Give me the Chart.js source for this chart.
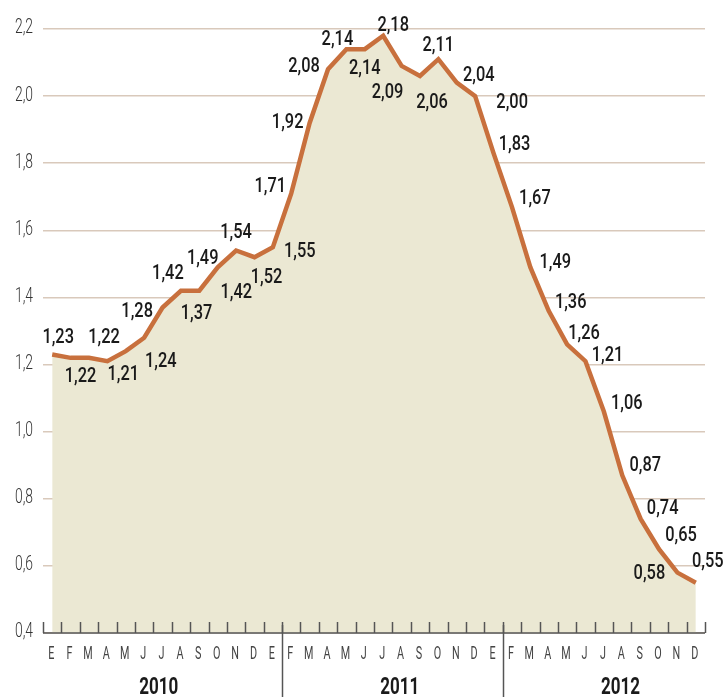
<!DOCTYPE html>
<html><head><meta charset="utf-8">
<script src="https://cdn.jsdelivr.net/npm/chart.js@4"></script>
<style>html,body{margin:0;padding:0;background:#fff}#wrap{width:727px;height:697px;position:relative}</style>
</head><body><div id="wrap"><canvas id="c"></canvas></div>
<script>
// ---- data ----
const months = ['E','F','M','A','M','J','J','A','S','O','N','D','E','F','M','A','M','J','J','A','S','O','N','D','E','F','M','A','M','J','J','A','S','O','N','D'];
const years = ['2010','2011','2012'];
const yearBreaks = [13, 25];
const values = [1.23,1.22,1.22,1.21,1.24,1.28,1.37,1.42,1.42,1.49,1.54,1.52,
                1.55,1.71,1.92,2.08,2.14,2.14,2.18,2.09,2.06,2.11,2.04,2.00,
                1.83,1.67,1.49,1.36,1.26,1.21,1.06,0.87,0.74,0.65,0.58,0.55];
const yTicks = [0.4,0.6,0.8,1.0,1.2,1.4,1.6,1.8,2.0,2.2];
const yMin = 0.4, yMax = 2.2;

// ---- label placement (offsets from the point, px) ----
const labelOffsets = [
  [6,-19],[10,17],[15,-22],[16,11],[35,8],[-7,-28],[34,4],[-13,-19],[37,0],[-15,-11],[0,-20],[12,18],
  [27,2],[-21,-9],[-22,-2],[-24,-5],[-9,-12],[0,17],[10,-12],[-14,25],[12,25],[0,-16],[22,-9],[37,4],
  [21,-11],[23,-10],[25,-7],[22,-10],[17,-13],[22,-8],[23,-10],[23,-12],[22,-12],[22,-16],[-28,-1],[12,-23]
];
const yearLabelPos = [5.8, 18.9, 30.9];

const FONT = 'Roboto, "DejaVu Sans", sans-serif';
const fmt = v => v.toFixed(2).replace('.', ',');

// draw text horizontally condensed; y is the visual centre of cap-height glyphs
function txt(ctx, s, x, y, weight, size, sx, align, color) {
  ctx.save();
  ctx.font = weight + ' ' + size + 'px ' + FONT;
  ctx.fillStyle = color;
  ctx.textAlign = align;
  ctx.textBaseline = 'alphabetic';
  ctx.translate(x, y + size * 0.711 / 2);
  ctx.scale(sx, 1);
  ctx.fillText(s, 0, 0);
  ctx.restore();
}

const decor = {
  id: 'decor',
  afterDatasetsDraw(chart) {
    const ctx = chart.ctx, xs = chart.scales.x, ys = chart.scales.y;
    const ca = chart.chartArea;
    ctx.save();
    ctx.strokeStyle = '#555';
    ctx.lineWidth = 1.5;
    ctx.beginPath();
    ctx.moveTo(ca.left, ca.bottom); ctx.lineTo(ca.right, ca.bottom);
    ctx.stroke();
    for (let i = 0; i <= months.length; i++) {
      const x = Math.round(xs.getPixelForValue(i - 0.5)) + 0.5;
      ctx.beginPath();
      ctx.moveTo(x, ca.bottom); ctx.lineTo(x, ca.bottom - 11);
      ctx.stroke();
    }
    yearBreaks.forEach(b => {
      const x = Math.round(xs.getPixelForValue(b - 0.5)) + 0.5;
      ctx.beginPath();
      ctx.moveTo(x, ca.bottom - 8); ctx.lineTo(x, chart.height);
      ctx.stroke();
    });
    ctx.restore();
    // y tick labels
    yTicks.forEach(v => {
      txt(ctx, v.toFixed(1).replace('.', ','), 33, ys.getPixelForValue(v) - 3, '300', 21, 0.66, 'right', '#333');
    });
    // month labels
    months.forEach((m, i) => {
      txt(ctx, m, xs.getPixelForValue(i) - 1, 653, '400', 18, 0.6, 'center', '#444');
    });
    // year labels
    years.forEach((y, i) => {
      txt(ctx, y, xs.getPixelForValue(yearLabelPos[i]), 686, 'bold', 23, 0.74, 'center', '#1a1a1a');
    });
    // data labels
    const meta = chart.getDatasetMeta(0);
    meta.data.forEach((pt, i) => {
      const [dx, dy] = labelOffsets[i];
      txt(ctx, fmt(values[i]), pt.x + dx, pt.y + dy, '500', 21, 0.78, 'center', '#1a1a1a');
    });
  }
};

new Chart(document.getElementById('c'), {
  type: 'line',
  data: {
    labels: months,
    datasets: [{
      data: values,
      borderColor: '#c8703d',
      borderWidth: 4.5,
      backgroundColor: '#ebe8d3',
      fill: 'start',
      tension: 0,
      pointRadius: 0,
      borderJoinStyle: 'miter'
    }]
  },
  options: {
    responsive: true,
    maintainAspectRatio: false,
    animation: false,
    events: [],
    layout: { padding: { top: 29, right: 22, left: 0, bottom: 0 } },
    plugins: { legend: { display: false }, tooltip: { enabled: false } },
    scales: {
      x: {
        offset: true,
        grid: { display: false, drawTicks: false },
        border: { display: false },
        ticks: { display: false },
        afterFit(s) { s.height = 64; }
      },
      y: {
        min: yMin, max: yMax,
        afterBuildTicks(s) { s.ticks = yTicks.map(v => ({ value: v })); },
        grid: { color: '#d9c9bb', lineWidth: 1.5, drawTicks: false },
        border: { display: false },
        ticks: { display: false },
        afterFit(s) { s.width = 43; }
      }
    }
  },
  plugins: [decor]
});
</script></body></html>
